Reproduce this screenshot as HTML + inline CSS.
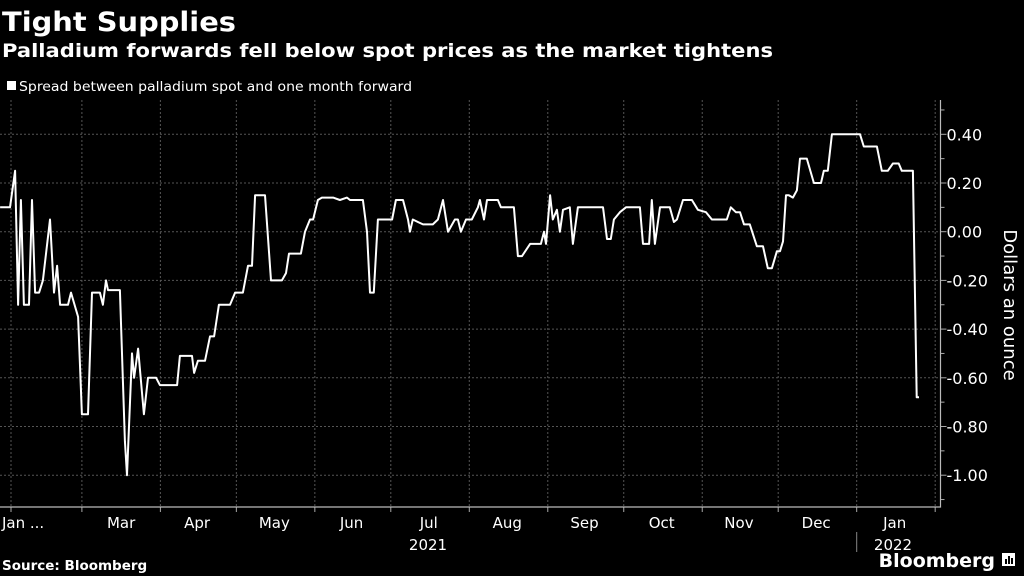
<!DOCTYPE html>
<html><head><meta charset="utf-8"><style>
html,body{margin:0;padding:0;background:#000;}
svg{display:block;font-family:"DejaVu Sans","Liberation Sans",sans-serif;}
</style></head><body>
<svg id="chart" width="1024" height="576" viewBox="0 0 1024 576" xmlns="http://www.w3.org/2000/svg">
<rect width="1024" height="576" fill="#000"/>
<text x="2" y="31" fill="#fff" font-size="27" font-weight="bold" textLength="234" lengthAdjust="spacingAndGlyphs">Tight Supplies</text>
<text x="2" y="57" fill="#fff" font-size="19" font-weight="bold" textLength="771" lengthAdjust="spacingAndGlyphs">Palladium forwards fell below spot prices as the market tightens</text>
<rect x="7" y="81" width="9" height="9" fill="#fff"/>
<text x="19" y="91" fill="#fff" font-size="13.5" textLength="393" lengthAdjust="spacingAndGlyphs">Spread between palladium spot and one month forward</text>
<g id="grid"></g>
<g id="axes"></g>
<g id="series"></g>
<text transform="translate(1004,305) rotate(90)" text-anchor="middle" fill="#fff" font-size="18">Dollars an ounce</text>
<text x="428" y="550" text-anchor="middle" fill="#fff" font-size="15">2021</text>
<text x="893" y="550" text-anchor="middle" fill="#fff" font-size="15">2022</text>
<line x1="856.7" y1="532" x2="856.7" y2="552" stroke="#888" stroke-width="1"/>
<text x="2" y="570" fill="#fff" font-size="13.5" font-weight="bold">Source: Bloomberg</text>
<text x="995" y="567" text-anchor="end" fill="#fff" font-size="19" font-weight="bold">Bloomberg</text>
<g><rect x="1002" y="553" width="13" height="13" fill="#fff"/><rect x="1005" y="559" width="2" height="5" fill="#000"/><rect x="1008" y="556" width="2" height="8" fill="#000"/><rect x="1011" y="558" width="2" height="6" fill="#000"/></g>
</svg>
<script>
const days=[26.7,30.6,32.6,33.8,34.9,36.1,38.1,39.3,40.5,42.1,43.6,46.4,48.0,49.2,50.4,53.5,54.7,57.5,59.0,61.4,63.0,66.1,67.3,68.5,69.3,74.0,76.0,76.8,78.8,79.6,81.2,83.5,85.1,88.3,89.8,96.6,97.7,102.5,103.3,104.8,107.6,109.6,111.2,113.1,117.5,119.5,122.6,124.6,126.2,127.4,131.3,133.7,138.0,139.6,140.8,145.5,147.1,149.1,150.3,152.2,153.8,158.2,160.9,163.7,164.9,170.0,171.6,172.8,174.3,175.9,181.5,183.0,185.8,187.8,188.6,189.7,191.7,193.7,197.6,199.6,201.6,203.6,206.3,207.5,208.7,210.7,213.0,215.4,216.2,217.8,219.0,222.5,223.3,224.5,229.6,231.2,232.8,236.0,240.3,241.5,242.3,243.9,245.0,246.6,247.8,249.0,251.7,252.9,254.9,264.8,266.4,267.9,269.1,271.5,273.9,279.4,280.6,283.0,284.1,285.3,287.3,291.2,292.8,294.0,296.4,299.9,302.3,305.5,307.8,313.7,315.3,317.3,318.9,320.5,322.8,325.6,328.0,329.9,331.5,333.5,334.7,335.9,337.1,338.2,339.8,341.4,342.6,345.3,348.1,350.9,352.0,353.6,355.2,366.3,367.8,373.0,374.9,377.3,379.3,381.6,382.8,387.2,388.7,389.6];
const spread=[0.10,0.10,0.25,-0.30,0.13,-0.30,-0.30,0.13,-0.25,-0.25,-0.20,0.05,-0.25,-0.14,-0.30,-0.30,-0.25,-0.35,-0.75,-0.75,-0.25,-0.25,-0.30,-0.20,-0.24,-0.24,-0.86,-1.00,-0.50,-0.60,-0.48,-0.75,-0.60,-0.60,-0.63,-0.63,-0.51,-0.51,-0.58,-0.53,-0.53,-0.43,-0.43,-0.30,-0.30,-0.25,-0.25,-0.14,-0.14,0.15,0.15,-0.20,-0.20,-0.17,-0.09,-0.09,0.00,0.05,0.05,0.13,0.14,0.14,0.13,0.14,0.13,0.13,0.00,-0.25,-0.25,0.05,0.05,0.13,0.13,0.05,0.00,0.05,0.04,0.03,0.03,0.05,0.13,0.00,0.05,0.05,0.00,0.05,0.05,0.10,0.13,0.05,0.13,0.13,0.13,0.10,0.10,-0.10,-0.10,-0.05,-0.05,0.00,-0.05,0.15,0.05,0.09,0.00,0.09,0.10,-0.05,0.10,0.10,-0.03,-0.03,0.05,0.08,0.10,0.10,-0.05,-0.05,0.13,-0.05,0.10,0.10,0.04,0.05,0.13,0.13,0.09,0.08,0.05,0.05,0.10,0.08,0.08,0.03,0.03,-0.06,-0.06,-0.15,-0.15,-0.08,-0.08,-0.04,0.15,0.15,0.14,0.17,0.30,0.30,0.20,0.20,0.25,0.25,0.40,0.40,0.35,0.35,0.25,0.25,0.28,0.28,0.25,0.25,-0.68,-0.68];
const yTicks=[0.4,0.2,0,-0.2,-0.4,-0.6,-0.8,-1.0];
const yTickLabels=["0.40","0.20","0.00","-0.20","-0.40","-0.60","-0.80","-1.00"];
const monthStarts=[31,59,90,120,151,181,212,243,273,304,334,365,396];
const monthLabels=["Jan ...","Mar","Apr","May","Jun","Jul","Aug","Sep","Oct","Nov","Dec","Jan"];
const monthLabelDays=[12,74.5,104.5,135,165.5,196,227,257.5,288,318.5,349,380];

const NS="http://www.w3.org/2000/svg";
const X0=11, D0=31, PX=2.532;
function xs(d){return X0+(d-D0)*PX;}
const Y0=231.7, PY=243.5;
function ys(v){return Y0-v*PY;}
const RIGHT=940.5, BOTTOM=507, TOP=100;
function mk(tag,attrs,parent){const e=document.createElementNS(NS,tag);for(const k in attrs)e.setAttribute(k,attrs[k]);parent.appendChild(e);return e;}
const grid=document.getElementById('grid'), axes=document.getElementById('axes'), series=document.getElementById('series');

yTicks.forEach((v,i)=>{
  const l=mk('line',{x1:0,x2:RIGHT,y1:ys(v),y2:ys(v),stroke:'#555','stroke-width':1,'stroke-dasharray':'2,2'},grid);
  
  
  const t=mk('line',{x1:RIGHT,x2:RIGHT+6,y1:ys(v),y2:ys(v),stroke:'#aaa','stroke-width':1},axes);
  
  
  const tx=mk('text',{x:RIGHT+6,y:ys(v)+6,fill:'#fff','font-size':16},axes);
  tx.textContent=yTickLabels[i];
  
  
});
for(let i=0;i<yTicks.length+1;i++){
  const v=0.5-0.2*i;
  const t=mk('line',{x1:RIGHT,x2:RIGHT+4,y1:ys(v),y2:ys(v),stroke:'#aaa','stroke-width':1},axes);
  
  
}
monthStarts.forEach(d=>{
  const x=xs(d);
  if(x>RIGHT)return;
  const l=mk('line',{x1:x,x2:x,y1:TOP,y2:BOTTOM,stroke:'#555','stroke-width':1,'stroke-dasharray':'2,2'},grid);
  
  
  const t=mk('line',{x1:x,x2:x,y1:BOTTOM,y2:BOTTOM+5,stroke:'#aaa','stroke-width':1},axes);
  
  
});
monthLabels.forEach((m,i)=>{
  const x=xs(monthLabelDays[i]);
  const t=mk('text',{x:i===0?2:x,y:528,fill:'#fff','font-size':15,'text-anchor':i===0?'start':'middle'},axes);
  t.textContent=m;
  
  
});
const ax=mk('path',{d:`M0 ${BOTTOM} H${RIGHT} V${TOP}`,stroke:'#bbb','stroke-width':1.2,fill:'none'},axes);



let d='';
days.forEach((dd,i)=>{d+=(i?'L':'M')+xs(dd).toFixed(1)+' '+ys(spread[i]).toFixed(1);});
const line=mk('path',{d:d,stroke:'#fff','stroke-width':2,fill:'none','stroke-linejoin':'round'},series);


</script>
</body></html>
